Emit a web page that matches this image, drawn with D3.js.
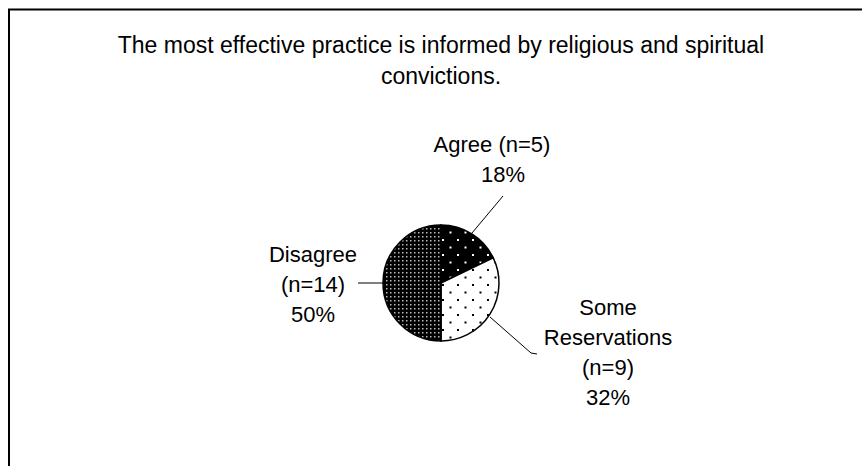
<!DOCTYPE html>
<html>
<head>
<meta charset="utf-8">
<script src="https://cdn.jsdelivr.net/npm/d3@7"></script>
<style>
  html, body { margin: 0; padding: 0; background: #fff; }
  svg { display: block; font-family: "Liberation Sans", Arial, sans-serif; }
</style>
</head>
<body>
<svg id="chart" width="862" height="466"></svg>
<script>
// Survey responses
const categories = ["Agree", "Some Reservations", "Disagree"];
const counts = [5, 9, 14];
const labelLines = [
  ["Agree (n=5)"],
  ["Some", "Reservations", "(n=9)"],
  ["Disagree", "(n=14)"]
];
const titleLines = [
  "The most effective practice is informed by religious and spiritual",
  "convictions."
];

const svg = d3.select("#chart");
const W = 862, H = 466;

// Frame
svg.append("rect")
  .attr("x", 9).attr("y", 9.5)
  .attr("width", W + 20).attr("height", H + 20)
  .attr("fill", "#fff").attr("stroke", "#000").attr("stroke-width", 2);

// Fill patterns
const defs = svg.append("defs");
function dotPattern(id, bg, fg, size, r, stagger) {
  const p = defs.append("pattern")
    .attr("id", id).attr("patternUnits", "userSpaceOnUse")
    .attr("width", size).attr("height", size);
  p.append("rect").attr("width", size).attr("height", size).attr("fill", bg);
  p.append("rect").attr("x", 1).attr("y", 1).attr("width", r).attr("height", r).attr("fill", fg);
  if (stagger) {
    p.append("rect").attr("x", size / 2 + 1).attr("y", size / 2 + 1)
      .attr("width", r).attr("height", r).attr("fill", fg);
  }
}
dotPattern("pAgree", "#000", "#fff", 15, 2, true);
dotPattern("pSome", "#fff", "#000", 15, 2, true);
dotPattern("pDis", "#000", "#b8b8b8", 4, 1.5, false);
const fills = ["url(#pAgree)", "url(#pSome)", "url(#pDis)"];

// Pie
const cx = 441, cy = 283, R = 58;
const total = d3.sum(counts);
const pie = d3.pie().sort(null).value(d => d)(counts);
const arc = d3.arc().innerRadius(0).outerRadius(R);
const g = svg.append("g").attr("transform", `translate(${cx},${cy})`);
g.selectAll("path.slice").data(pie).join("path")
  .attr("class", "slice")
  .attr("d", arc)
  .attr("fill", (d, i) => fills[i])
  .attr("stroke", "#000").attr("stroke-width", 1.5);

// Title
svg.append("g").selectAll("text").data(titleLines).join("text")
  .attr("x", 441).attr("y", (d, i) => 53 + i * 31)
  .attr("text-anchor", "middle")
  .attr("font-size", 23).attr("fill", "#000")
  .text(d => d);

// Labels with leader lines
const pct = counts.map(c => Math.round(c / total * 100) + "%");
const labelSpec = [
  { x: 492, y: 152, line: [[472, 233], [503, 196]] },
  { x: 608, y: 315, line: [[490, 317], [531, 353], [537, 354]] },
  { x: 313, y: 262, line: [[383, 283], [358, 283]] }
];
labelSpec.forEach((s, i) => {
  const lines = labelLines[i].concat([pct[i]]);
  const t = svg.append("text")
    .attr("text-anchor", "middle").attr("font-size", 22).attr("fill", "#000");
  lines.forEach((ln, k) => {
    let x = s.x;
    if (i === 0 && k === 1) x = 503;
    t.append("tspan").attr("x", x).attr("y", s.y + k * 30).text(ln);
  });
  svg.append("path")
    .attr("d", d3.line()(s.line))
    .attr("fill", "none").attr("stroke", "#000").attr("stroke-width", 1);
});
</script>
</body>
</html>
